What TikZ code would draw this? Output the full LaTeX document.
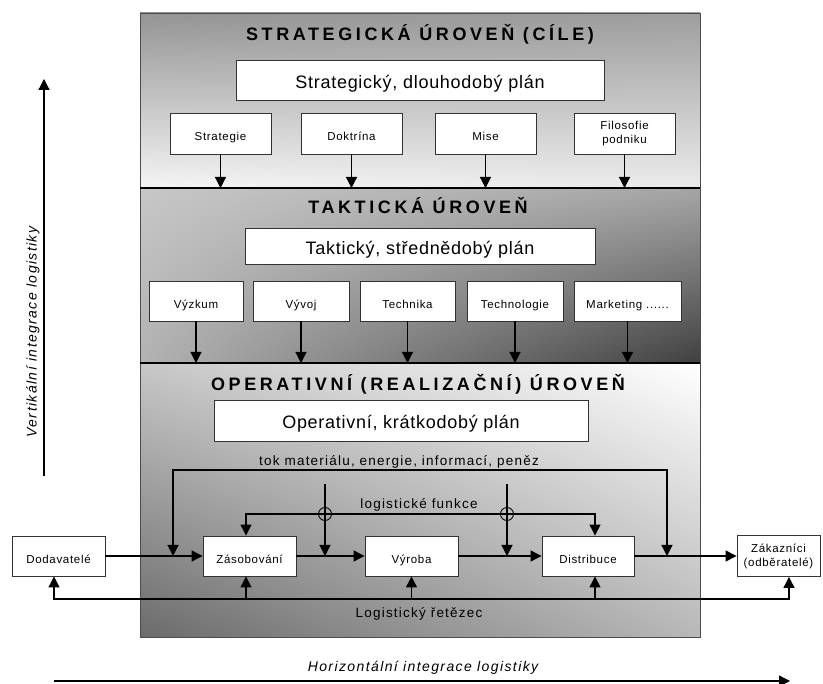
\documentclass[tikz,border=0pt]{standalone}
\usepackage{fontspec}
\setmainfont{Liberation Sans}
\newfontfamily\headfont[LetterSpace=20]{Liberation Sans}
\newfontfamily\planfont[LetterSpace=4]{Liberation Sans}
\newfontfamily\smallfont[LetterSpace=6]{Liberation Sans}
\newfontfamily\notefont[LetterSpace=9]{Liberation Sans}
\newfontfamily\axisfont[LetterSpace=10]{Liberation Sans}
\usepackage{tikz}
\usetikzlibrary{arrows.meta}
\usetikzlibrary{shadings}
\tikzset{box/.style={rectangle,draw=black!80,fill=white,line width=0.9pt,
minimum width=96pt,minimum height=40pt,inner sep=1pt,
font=\smallfont\fontsize{11.5}{14}\selectfont},
item/.style={box,text height=15pt,text depth=0pt},
pair/.style={box,align=center},
plan/.style={box,text height=17pt,text depth=0.5pt,font=\planfont\fontsize{18}{18}\selectfont},
level/.style={inner sep=0pt,font=\headfont\bfseries\fontsize{18}{18}\selectfont},
note/.style={inner sep=0pt,font=\notefont\fontsize{13.5}{13.5}\selectfont},
axis/.style={inner sep=0pt,font=\axisfont\itshape\fontsize{14}{14}\selectfont},
jump/.style={circle,draw,line width=0.9pt,minimum size=13pt,inner sep=0pt},
link/.style={line width=1.2pt},
>={Triangle[length=11pt,width=11pt]}}

\begin{document}
\begin{tikzpicture}[x=1pt,y=-1pt]
  \useasboundingbox (0,0) rectangle (823,684);
  % three levels
  \shade[upper left=black!42,upper right=black!38,lower left=black!4,lower right=black!8]
    (140,13) rectangle (700,188);
  \shade[upper left=black!22,upper right=black!35,lower left=black!30,lower right=black!75]
    (140,188) rectangle (700,363);
  \shade[upper left=black!22,upper right=white,lower left=black!58,lower right=black!28]
    (140,363) rectangle (700,637);
  \draw[black!70,line width=0.9pt] (140,13) rectangle (700,637);
  \coordinate (cutA) at (140,188);
  \coordinate (cutB) at (140,363);
  \draw[line width=1.3pt] (cutA) -- ++(560,0);
  \draw[line width=1.3pt] (cutB) -- ++(560,0);

  % strategic level
  \node (strat) [level] at (420,34) {STRATEGICKÁ ÚROVEŇ (CÍLE)};
  \node (splan) [plan,minimum width=368pt] at (420,80) {Strategický, dlouhodobý plán};
  \node (s1) [item,minimum width=101pt,minimum height=41pt] at (220.5,133.5) {Strategie};
  \node (s2) [item,minimum width=101pt,minimum height=41pt] at (351.5,133.5) {Doktrína};
  \node (s3) [item,minimum width=101pt,minimum height=41pt] at (485.5,133.5) {Mise};
  \node (s4) [pair,minimum width=101pt,minimum height=41pt] at (624.5,133.5) {Filosofie\\podniku};
  \foreach \n in {s1,s2,s3,s4}
    \draw [link,->] (\n.south) -- (\n.south |- cutA);

  % tactical level
  \node (takt) [level] at (418,206) {TAKTICKÁ ÚROVEŇ};
  \node (tplan) [plan,minimum width=350pt,minimum height=36pt] at (420,246.5) {Taktický, střednědobý plán};
  \node (t1) [item,minimum width=94pt] at (196,301) {Výzkum};
  \node (t2) [item,minimum width=96pt] at (301,301) {Vývoj};
  \node (t3) [item,minimum width=95pt] at (407.5,301) {Technika};
  \node (t4) [item,minimum width=96pt] at (515,301) {Technologie};
  \node (t5) [item,minimum width=107pt] at (627.5,301) {Marketing ......};
  \foreach \n in {t1,t2,t3,t4,t5}
    \draw [link,->] (\n.south) -- (\n.south |- cutB);

  % operational level
  \node (oper) [level] at (418,384) {OPERATIVNÍ (REALIZAČNÍ) ÚROVEŇ};
  \node (oplan) [plan,minimum width=374pt,minimum height=41pt] at (401,420.5) {Operativní, krátkodobý plán};
  \node (tok) [note] at (399,462) {tok materiálu, energie, informací, peněz};
  \node (funk) [note] at (419,505) {logistické funkce};
  \node (chain) [note] at (419,614) {Logistický řetězec};

  \node (dod) [item,minimum width=93pt] at (58.5,556) {Dodavatelé};
  \node (zas) [item,minimum width=93pt] at (249.5,556) {Zásobování};
  \node (vyr) [item,minimum width=93pt] at (411.5,556) {Výroba};
  \node (dis) [item,minimum width=92pt] at (588,556) {Distribuce};
  \node (zak) [pair,minimum width=83pt,minimum height=41pt] at (778.5,556) {Zákazníci\\(odběratelé)};

  \draw [link,->] (dod) -- (zas);
  \draw [link,->] (zas) -- (vyr);
  \draw [link,->] (vyr) -- (dis);
  \draw [link,->] (dis) -- (zak);

  % flows of material, energy, information, money
  \coordinate (tokL) at (173,470);
  \coordinate (tokR) at (667,470);
  \coordinate (tokM1) at (325,484);
  \coordinate (tokM2) at (507,484);
  \draw [link,<->] (tokL |- zas) -- (tokL) -- (tokR) -- (tokR |- dis);
  \draw [link,->] (tokM1) -- (tokM1 |- zas);
  \draw [link,->] (tokM2) -- (tokM2 |- zas);

  % logistic functions
  \coordinate (funL) at (246,514);
  \coordinate (funR) at (595,514);
  \draw [link,<->] (funL |- zas.north) -- (funL) -- (funR) -- (funR |- dis.north);
  \node (cross1) [jump] at (tokM1 |- funL) {};
  \node (cross2) [jump] at (tokM2 |- funL) {};

  % logistic chain
  \coordinate (chL) at (54,599);
  \coordinate (chR) at (789,599);
  \draw [link,<->] (chL |- dod.south) -- (chL) -- (chR) -- (chR |- zak.south);
  \draw [link,->] (funL |- chL) -- (funL |- zas.south);
  \draw [link,->] (vyr.south |- chL) -- (vyr.south);
  \draw [link,->] (funR |- chL) -- (funR |- dis.south);

  % integration axes
  \coordinate (vBot) at (44,476);
  \coordinate (vTop) at (44,79);
  \draw [link,->] (vBot) -- (vTop);
  \node (vert) [axis,rotate=90] at (33,332) {Vertikální integrace logistiky};
  \coordinate (hBeg) at (54,681);
  \coordinate (hEnd) at (790,681);
  \draw [link,->] (hBeg) -- (hEnd);
  \node (horiz) [axis] at (423,668) {Horizontální integrace logistiky};
\end{tikzpicture}
\end{document}
